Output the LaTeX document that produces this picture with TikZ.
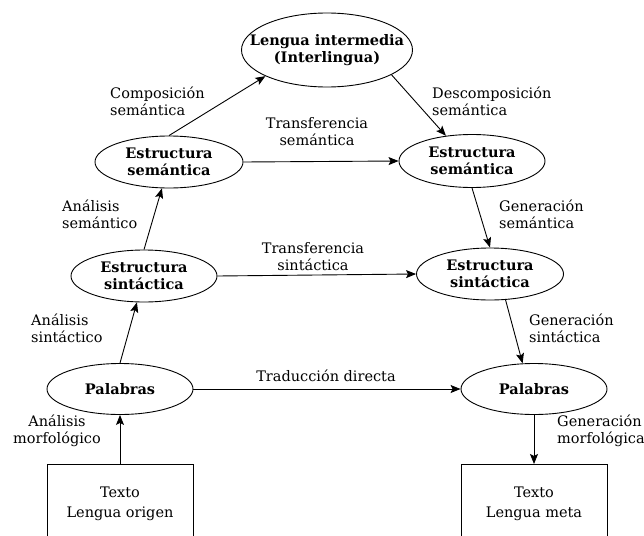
\documentclass[tikz,border=0pt]{standalone}
\usepackage{fontspec}
\setmainfont{DejaVu Serif}
\usetikzlibrary{arrows.meta,shapes.geometric}

\tikzset{
  stage/.style={draw, ellipse, line width=0.9pt, inner sep=0pt, align=center,
    font=\fontsize{14.5}{16.5}\selectfont\bfseries},
  textbox/.style={draw, rectangle, line width=0.9pt, inner sep=0pt, align=center,
    minimum width=146, minimum height=78, font=\fontsize{14.5}{20}\selectfont},
  lbl/.style={inner sep=0pt, font=\fontsize{14.5}{17}\selectfont},
  flow/.style={line width=0.9pt, -{Stealth[length=10pt,width=8pt,inset=2pt]}}
}

\begin{document}
\begin{tikzpicture}[x=1pt,y=-1pt]
  \useasboundingbox (0,0) rectangle (644,535);
  \clip (0,0) rectangle (644,535);

  % stages of the pyramid
  \node[stage, inner xsep=-20pt, minimum width=171, minimum height=74] (inter) at (327,50) {Lengua intermedia\\(Interlingua)};
  \node[stage, minimum width=148, minimum height=52] (semL) at (169,162) {Estructura\\semántica};
  \node[stage, minimum width=146, minimum height=53] (semR) at (472,161) {Estructura\\semántica};
  \node[stage, minimum width=146, minimum height=52] (sinL) at (144,276) {Estructura\\sintáctica};
  \node[stage, minimum width=147, minimum height=52] (sinR) at (490,274) {Estructura\\sintáctica};
  \node[stage, minimum width=146, minimum height=51] (palL) at (120,389) {Palabras};
  \node[stage, minimum width=146, minimum height=51] (palR) at (534,389) {Palabras};

  % source and target texts
  \node[textbox, anchor=north] (srcT) at (120,464) {Texto\\Lengua origen};
  \node[textbox, anchor=north] (tgtT) at (534,464) {Texto\\Lengua meta};

  % analysis side
  \draw[flow] (srcT.north) -- (palL.south);
  \draw[flow] (palL.north) -- (sinL.255);
  \draw[flow] (sinL.north) -- (semL.255);
  \draw[flow] (semL.north) -- (inter.203);

  % generation side
  \draw[flow] (inter.339) -- (semR.136);
  \draw[flow] (semR.south) -- (sinR.north);
  \draw[flow] (sinR.301) -- (palR.114);
  \draw[flow] (palR.south) -- (tgtT.north);

  % transfers
  \draw[flow] (semL.east) -- (semR.west);
  \draw[flow] (sinL.east) -- (sinR.west);
  \draw[flow] (palL.east) -- (palR.west);

  % labels
  \node[lbl, anchor=west, align=left] (lComp) at (110,101) {Composición\\semántica};
  \node[lbl, anchor=west, align=left] (lDesc) at (432,101) {Descomposición\\semántica};
  \node[lbl, align=center] (lTsem) at (317,132) {Transferencia\\semántica};
  \node[lbl, anchor=west, align=left] (lAsem) at (62,214) {Análisis\\semántico};
  \node[lbl, anchor=west, align=left] (lGsem) at (499,214) {Generación\\semántica};
  \node[lbl, align=center] (lTsin) at (313,257) {Transferencia\\sintáctica};
  \node[lbl, anchor=west, align=left] (lAsin) at (31,328) {Análisis\\sintáctico};
  \node[lbl, anchor=west, align=left] (lGsin) at (529,328) {Generación\\sintáctica};
  \node[lbl] (lDir) at (326,376) {Traducción directa};
  \node[lbl, align=center] (lAmor) at (57,431) {Análisis\\morfológico};
  \node[lbl, anchor=west, align=left] (lGmor) at (557,431) {Generación\\morfológica};
\end{tikzpicture}
\end{document}
